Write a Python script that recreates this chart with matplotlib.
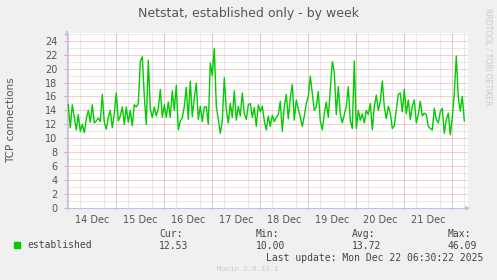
import matplotlib
matplotlib.use("Agg")
import matplotlib.pyplot as plt
import numpy as np

# hourly samples of established TCP connections, 14 Dec 00:00 -> 22 Dec 06:00
day_14 = [14.8, 11.5, 14.8, 13.0, 11.2, 13.4, 11.0, 12.0, 10.8, 12.8, 14.0, 12.3,
          14.8, 12.2, 12.5, 12.9, 12.4, 16.3, 12.3, 11.3, 13.0, 14.0, 11.5, 13.5]
day_15 = [16.5, 12.5, 13.2, 14.5, 12.0, 14.5, 12.3, 14.0, 11.8, 14.8, 14.5, 15.0,
          21.0, 21.7, 16.0, 12.0, 21.2, 14.2, 13.0, 14.5, 13.2, 14.3, 17.0, 13.0]
day_16 = [14.8, 13.0, 15.2, 13.0, 16.8, 14.0, 17.6, 11.2, 12.5, 12.9, 14.6, 17.3,
          12.7, 18.2, 13.1, 15.8, 17.9, 12.7, 14.6, 12.4, 14.5, 14.5, 12.0, 20.8]
day_17 = [19.0, 22.9, 14.6, 12.7, 10.7, 12.5, 18.7, 14.1, 12.2, 15.0, 13.0, 16.8,
          12.6, 14.6, 13.2, 16.5, 13.5, 12.7, 14.8, 15.0, 13.0, 14.4, 11.7, 14.8]
day_18 = [13.8, 14.6, 12.5, 11.2, 13.2, 11.7, 13.3, 12.4, 13.0, 13.4, 15.3, 11.0,
          14.6, 16.3, 12.8, 15.8, 17.7, 12.6, 15.5, 14.2, 13.0, 11.7, 13.2, 15.0]
day_19 = [16.0, 18.9, 16.5, 14.0, 14.5, 16.7, 12.5, 11.2, 13.5, 15.2, 13.0, 17.0,
          21.0, 19.5, 13.4, 17.4, 13.5, 12.2, 13.4, 14.6, 17.4, 12.5, 11.4, 21.1]
day_20 = [11.4, 14.0, 12.6, 13.5, 12.2, 14.0, 13.4, 15.0, 11.2, 14.5, 16.2, 14.0,
          15.3, 18.2, 14.5, 12.8, 14.6, 13.6, 11.4, 11.8, 14.0, 16.3, 16.5, 13.8]
day_21 = [17.0, 13.5, 15.5, 12.7, 14.6, 15.5, 12.2, 13.4, 15.3, 13.2, 13.6, 13.4,
          11.7, 11.4, 11.2, 14.3, 12.7, 12.2, 13.8, 14.3, 10.7, 12.7, 13.6, 10.5]
day_22 = [13.0, 16.5, 21.8, 15.8, 13.9, 16.0, 12.5]

day_labels = ["14 Dec", "15 Dec", "16 Dec", "17 Dec", "18 Dec", "19 Dec", "20 Dec", "21 Dec"]

established = day_14 + day_15 + day_16 + day_17 + day_18 + day_19 + day_20 + day_21 + day_22
t = np.arange(len(established)) / 24.0

W, H = 497, 280
fig = plt.figure(figsize=(W / 100, H / 100), dpi=100, facecolor="#F0F0F0")
ax = fig.add_axes([67 / W, (H - 208) / H, (468 - 67) / W, (208 - 33) / H])
ax.set_facecolor("white")

ax.plot(t, established, color="#00CC00", lw=1.0, zorder=5)

ax.set_xlim(-0.027, 8.327)
ax.set_ylim(0, 25.1)

# grid: gray every 6 hours / 1 unit, red every day / 2 units
ax.set_xticks(np.arange(0, 8.3, 0.25), minor=True)
ax.set_yticks(np.arange(0, 26, 1), minor=True)
ax.set_yticks(np.arange(0, 25, 2))
ax.set_xticks(np.arange(8) + 0.5, day_labels)
ax.grid(which="minor", color="#D4D4D4", lw=0.72, ls=(0, (1, 1)), zorder=1)
ax.grid(which="major", axis="y", color="#F2A0A0", lw=0.72, ls=(0, (1, 1)), zorder=2)
for d in range(9):
    ax.axvline(d, ymin=-0.015, ymax=1, color="#F2A0A0", lw=0.72, ls=(0, (1, 1)),
               zorder=2, clip_on=False)

ax.tick_params(axis="x", which="both", length=0, pad=5, labelsize=7, labelcolor="#555555")
ax.tick_params(axis="y", which="major", length=2, color="#F2A0A0", pad=5,
               labelsize=7, labelcolor="#555555")
ax.tick_params(axis="y", which="minor", length=0)

for s in ["top", "right"]:
    ax.spines[s].set_visible(False)
for s in ["left", "bottom"]:
    ax.spines[s].set_color("#C0C0F0")
    ax.spines[s].set_linewidth(0.8)
ax.annotate("", xy=(0, 1.03), xytext=(0, 0.99), xycoords="axes fraction",
            arrowprops=dict(arrowstyle="-|>", color="#C0C0F0", lw=0.8, mutation_scale=6))
ax.annotate("", xy=(1.012, 0), xytext=(0.99, 0), xycoords="axes fraction",
            arrowprops=dict(arrowstyle="-|>", color="#C0C0F0", lw=0.8, mutation_scale=6))

fig.text(11 / W, 1 - 120 / H, "TCP connections", rotation=90,
         ha="center", va="center", fontsize=7.5, color="#555555")

fig.text(248 / W, 1 - 13 / H, "Netstat, established only - by week",
         ha="center", va="center", fontsize=9, color="#555555")
fig.text(488 / W, 1 - 57 / H, "RRDTOOL / TOBI OETIKER", rotation=-90,
         ha="center", va="center", fontsize=5.5, color="#C8C8C8")

mono = "DejaVu Sans Mono"
tc = "#444444"
fig.patches.append(plt.Rectangle((14 / W, 1 - 248 / H), 6 / W, 6 / H,
                                 transform=fig.transFigure, color="#00CC00"))
fig.text(27 / W, 1 - 245 / H, "established", family=mono, fontsize=7, color=tc, va="center")
cols = [("Cur:", "12.53", 159), ("Min:", "10.00", 256),
        ("Avg:", "13.72", 352), ("Max:", "46.09", 448)]
for head, val, x in cols:
    fig.text(x / W, 1 - 234 / H, head, family=mono, fontsize=7, color=tc, va="center")
    fig.text(x / W, 1 - 246 / H, val, family=mono, fontsize=7, color=tc, va="center")
fig.text(483 / W, 1 - 258 / H, "Last update: Mon Dec 22 06:30:22 2025",
         family=mono, fontsize=7, color=tc, va="center", ha="right")
fig.text(248 / W, 1 - 269 / H, "Munin 2.0.33-1", family=mono, fontsize=5.2,
         color="#C8C8C8", va="center", ha="center")

fig.savefig("out.png", dpi=100, facecolor=fig.get_facecolor())
